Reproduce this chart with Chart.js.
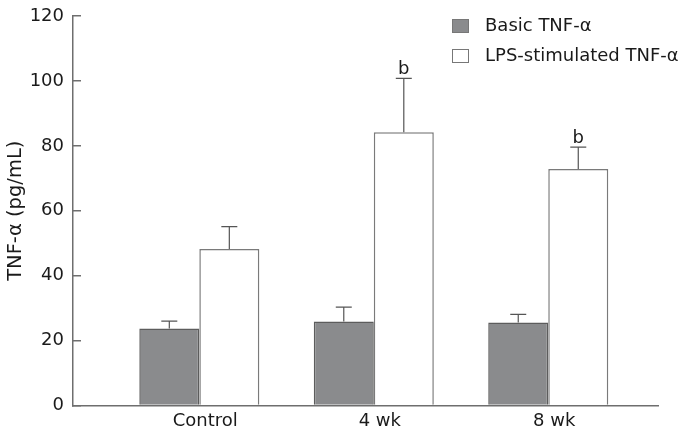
<!DOCTYPE html>
<html lang="en">
<head>
    <meta charset="UTF-8">
    <title>TNF-alpha bar chart</title>
    <script src="https://cdn.jsdelivr.net/npm/chart.js"></script>
    <style>
        html, body { margin: 0; padding: 0; background: #fff; }
        #wrap { width: 693px; height: 436px; }
    </style>
</head>
<body>
    <div id="wrap"><canvas id="chart"></canvas></div>

    <script>
        // Data
        const groups = ['Control', '4 wk', '8 wk'];
        const basic = [23.7, 25.9, 25.6];
        const basicErr = [2.3, 4.4, 2.5];
        const lps = [48.2, 84.2, 72.9];
        const lpsErr = [6.9, 16.6, 6.7];
        const lpsSig = ['', 'b', 'b'];
        const yTicks = [0, 20, 40, 60, 80, 100, 120];

        const FONT = '"DejaVu Sans", Verdana, sans-serif';
        const TEXT = '#1a1a1a';
        const AXIS = '#6e6e6e';

        // error bars (upper only) + significance letters
        const errorBars = {
            id: 'errorBars',
            afterDatasetsDraw(chart) {
                const ctx = chart.ctx;
                const y = chart.scales.y;
                ctx.save();
                ctx.strokeStyle = '#555';
                ctx.lineWidth = 1.2;
                chart.data.datasets.forEach((ds, di) => {
                    const meta = chart.getDatasetMeta(di);
                    meta.data.forEach((bar, i) => {
                        const top = y.getPixelForValue(ds.data[i].y + ds.err[i]);
                        ctx.beginPath();
                        ctx.moveTo(bar.x, bar.y);
                        ctx.lineTo(bar.x, top);
                        ctx.moveTo(bar.x - 8, top);
                        ctx.lineTo(bar.x + 8, top);
                        ctx.stroke();
                        if (ds.sig && ds.sig[i]) {
                            ctx.fillStyle = TEXT;
                            ctx.font = '18px ' + FONT;
                            ctx.textAlign = 'center';
                            ctx.textBaseline = 'alphabetic';
                            ctx.fillText(ds.sig[i], bar.x, top - 4);
                        }
                    });
                });
                ctx.restore();
            }
        };

        // legend in the top right corner
        const cornerLegend = {
            id: 'cornerLegend',
            afterDraw(chart) {
                const ctx = chart.ctx;
                ctx.save();
                ctx.font = '18px ' + FONT;
                ctx.textBaseline = 'middle';
                ctx.textAlign = 'left';
                chart.data.datasets.forEach((ds, i) => {
                    const yy = 26 + i * 30;
                    ctx.fillStyle = ds.backgroundColor;
                    ctx.fillRect(452, yy - 7, 17, 14);
                    ctx.strokeStyle = '#777';
                    ctx.lineWidth = 1;
                    ctx.strokeRect(452.5, yy - 6.5, 16, 13);
                    ctx.fillStyle = TEXT;
                    ctx.fillText(ds.label, 485, yy);
                });
                ctx.restore();
            }
        };

        new Chart(document.getElementById('chart'), {
            type: 'bar',
            data: {
                datasets: [{
                    label: 'Basic TNF-α',
                    data: basic.map((v, i) => ({ x: i, y: v })),
                    err: basicErr,
                    backgroundColor: '#8a8b8d',
                    borderColor: '#5c5c5c',
                    borderWidth: 1.5
                }, {
                    label: 'LPS-stimulated TNF-α',
                    data: lps.map((v, i) => ({ x: i, y: v })),
                    err: lpsErr,
                    sig: lpsSig,
                    backgroundColor: '#ffffff',
                    borderColor: '#7a7a7a',
                    borderWidth: 1.5
                }]
            },
            options: {
                responsive: true,
                maintainAspectRatio: false,
                animation: false,
                categoryPercentage: 0.688,
                barPercentage: 1.0,
                layout: { padding: { top: 16, right: 35, left: 0, bottom: 0 } },
                scales: {
                    x: {
                        type: 'linear',
                        min: -0.724,
                        max: 2.629,
                        offset: false,
                        afterBuildTicks: s => { s.ticks = groups.map((g, i) => ({ value: i })); },
                        afterFit: s => { s.height = 30.5; s.paddingLeft = 0; s.paddingRight = 0; },
                        grid: { display: false, offset: false },
                        border: { display: true, color: AXIS, width: 1.5 },
                        ticks: {
                            color: TEXT,
                            font: { family: FONT, size: 18 },
                            padding: -3,
                            labelOffset: 6,
                            maxRotation: 0,
                            autoSkip: false,
                            callback: v => groups[v]
                        }
                    },
                    y: {
                        min: 0,
                        max: 120,
                        afterBuildTicks: s => { s.ticks = yTicks.map(v => ({ value: v })); },
                        afterFit: s => { s.width = 73; s.paddingTop = 0; s.paddingBottom = 0; },
                        grid: { drawOnChartArea: false, tickLength: -8, color: AXIS, lineWidth: 1.5 },
                        border: { display: true, color: AXIS, width: 1.5 },
                        ticks: {
                            color: TEXT,
                            font: { family: FONT, size: 18 },
                            padding: 17
                        },
                        title: {
                            display: true,
                            text: 'TNF-α (pg/mL)',
                            color: TEXT,
                            font: { family: FONT, size: 19.5 },
                            padding: { top: 4, bottom: 0 }
                        }
                    }
                },
                plugins: {
                    legend: { display: false },
                    tooltip: { enabled: false }
                }
            },
            plugins: [errorBars, cornerLegend]
        });
    </script>
</body>
</html>
